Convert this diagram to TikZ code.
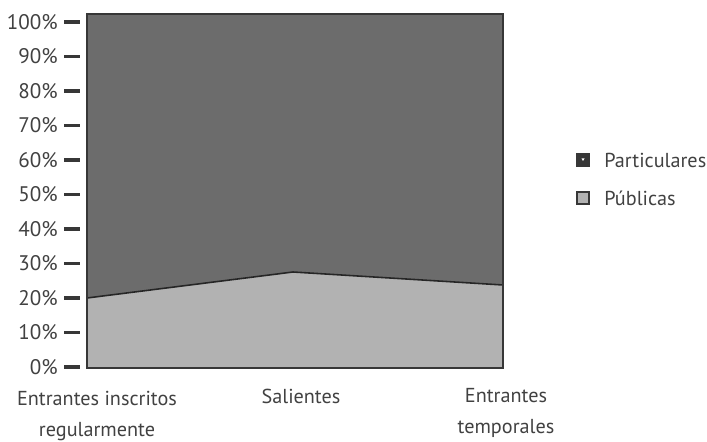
\documentclass[tikz,border=0pt]{standalone}
\usepackage{fontspec}
\setmainfont{PT Sans}
\definecolor{txtgray}{RGB}{65,65,65}
\definecolor{darkfill}{RGB}{108,108,108}
\definecolor{lightfill}{RGB}{178,178,178}
\definecolor{edgegray}{RGB}{55,55,55}
\tikzset{
	tick/.style={line width=2.2pt, edgegray},
	ticklabel/.style={anchor=east, text=txtgray, font=\fontsize{12}{14}\selectfont, inner sep=0pt},
	catlabel/.style={align=center, text=txtgray, font=\fontsize{11.5}{17.5}\selectfont, inner sep=0pt},
	legbox/.style={draw=edgegray, line width=1pt, minimum size=6.8pt, inner sep=0pt},
}
\begin{document}
\begin{tikzpicture}[x=0.02cm, y=-0.02cm]
		\useasboundingbox (0,0) rectangle (707,442);
		
		% areas
		\coordinate (tl) at (87,14);
		\coordinate (tr) at (503,14);
		\coordinate (bl) at (87,368);
		\coordinate (br) at (503,368);
		\coordinate (s1) at (87,298);
		\coordinate (s2) at (293,272);
		\coordinate (s3) at (503,285);
		\fill[darkfill] (tl) -- (tr) -- (s3) -- (s2) -- (s1) -- cycle;
		\fill[lightfill] (s1) -- (s2) -- (s3) -- (br) -- (bl) -- cycle;
		\draw[-, line width=0.9pt, black!85] (s1) -- (s2) -- (s3);
		\draw[-, line width=1.2pt, edgegray] (tl) -- (tr) -- (br) -- (bl) -- cycle;
		
		% y axis
		\node[ticklabel] (p100) at (58,22) {100\%};
		\node[ticklabel] (p90) at (58,56.5) {90\%};
		\node[ticklabel] (p80) at (58,91) {80\%};
		\node[ticklabel] (p70) at (58,125.5) {70\%};
		\node[ticklabel] (p60) at (58,160) {60\%};
		\node[ticklabel] (p50) at (58,194.5) {50\%};
		\node[ticklabel] (p40) at (58,229) {40\%};
		\node[ticklabel] (p30) at (58,263.5) {30\%};
		\node[ticklabel] (p20) at (58,298) {20\%};
		\node[ticklabel] (p10) at (58,332.5) {10\%};
		\node[ticklabel] (p0) at (58,367) {0\%};
		\draw[tick] (64,22) -- (80,22);
		\draw[tick] (64,56.5) -- (80,56.5);
		\draw[tick] (64,91) -- (80,91);
		\draw[tick] (64,125.5) -- (80,125.5);
		\draw[tick] (64,160) -- (80,160);
		\draw[tick] (64,194.5) -- (80,194.5);
		\draw[tick] (64,229) -- (80,229);
		\draw[tick] (64,263.5) -- (80,263.5);
		\draw[tick] (64,298) -- (80,298);
		\draw[tick] (64,332.5) -- (80,332.5);
		\draw[tick] (64,367) -- (80,367);
		
		% categories
		\node[catlabel, anchor=north] (c1) at (97,391) {Entrantes inscritos\\regularmente};
		\node[catlabel, anchor=north] (c2) at (301,389) {Salientes};
		\node[catlabel, anchor=north] (c3) at (506,388) {Entrantes\\temporales};
		
		% legend
		\node[legbox, fill=edgegray] (k1) at (583,160) {};
		\fill[white] (581.5,158.5) -- (584.5,158.5) -- (583,161) -- cycle;
		\node[legbox, fill=lightfill] (k2) at (583,198) {};
		\node[anchor=west, text=txtgray, font=\fontsize{11.5}{14}\selectfont, inner sep=0pt] (l1) at (604,160) {Particulares};
		\node[anchor=west, text=txtgray, font=\fontsize{11.5}{14}\selectfont, inner sep=0pt] (l2) at (604,198) {Públicas};
		
	\end{tikzpicture}
\end{document}
